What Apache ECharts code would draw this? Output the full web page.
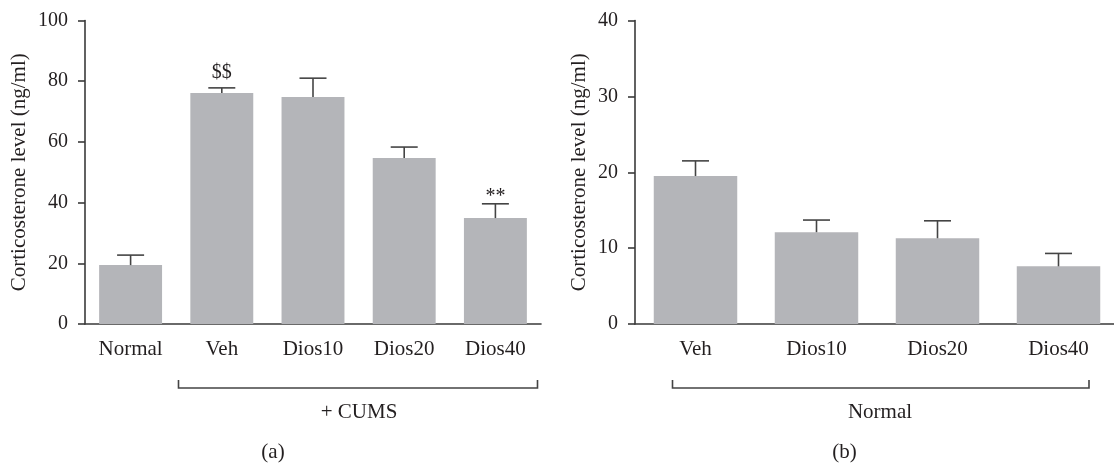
<!DOCTYPE html>
<html><head><meta charset="utf-8">
<script src="https://cdn.jsdelivr.net/npm/echarts@6/dist/echarts.min.js"></script>
<style>html,body{margin:0;padding:0;background:#fff}#c{width:1114px;height:465px}</style>
</head><body><div id="c"></div>
<script>
// ---- data ----
const catsA = ['Normal', 'Veh', 'Dios10', 'Dios20', 'Dios40'];
const meanA = [19.4, 76.1, 74.8, 54.7, 34.9];
const semA  = [3.3, 1.7, 6.2, 3.6, 4.7];
const markA = ['', '$$', '', '', '**'];
const catsB = ['Veh', 'Dios10', 'Dios20', 'Dios40'];
const meanB = [19.5, 12.1, 11.3, 7.6];
const semB  = [2.0, 1.6, 2.3, 1.7];
const markB = ['', '', '', ''];
const yTicksA = { min: 0, max: 100, interval: 20 };
const yTicksB = { min: 0, max: 40, interval: 10 };
const yTitle = 'Corticosterone level (ng/ml)';
const groupA = '+ CUMS', groupB = 'Normal';
const panelA = '(a)', panelB = '(b)';

// ---- style ----
const FONT = '"Liberation Serif", "Times New Roman", serif';
const TXT = '#231f20';
const AX = '#3a3a3a';
const BAR = '#b4b5b9';
const FS = 21;
const FSN = 20;

function errRender(marks) {
  return function (params, api) {
    const i = api.value(0), m = api.value(1), e = api.value(2);
    const base = api.coord([i, m]);
    const top = api.coord([i, m + e]);
    const half = 13.5;
    const st = { stroke: '#444', lineWidth: 1.6 };
    const ch = [
      { type: 'line', shape: { x1: base[0], y1: base[1], x2: top[0], y2: top[1] }, style: st },
      { type: 'line', shape: { x1: top[0] - half, y1: top[1], x2: top[0] + half, y2: top[1] }, style: st }
    ];
    const mk = marks[params.dataIndex];
    if (mk) {
      const star = mk.indexOf('*') >= 0;
      ch.push({ type: 'text', style: { text: mk, x: top[0], y: top[1] + (star ? 3 : -5), align: 'center', verticalAlign: 'bottom',
        font: FSN + 'px ' + FONT, fill: TXT } });
    }
    return { type: 'group', children: ch };
  };
}

function xAxis(cats, gi) {
  return {
    type: 'category', gridIndex: gi, data: cats,
    axisLine: { lineStyle: { color: AX, width: 1.6 } },
    axisTick: { alignWithLabel: true, length: 7, lineStyle: { color: AX, width: 1.6 } },
    axisLabel: { color: TXT, fontFamily: FONT, fontSize: FS, margin: 15, interval: 0 }
  };
}
function yAxis(t, gi, gap) {
  return {
    type: 'value', gridIndex: gi, min: t.min, max: t.max, interval: t.interval,
    name: yTitle, nameLocation: 'middle', nameRotate: 90, nameGap: gap,
    nameTextStyle: { color: TXT, fontFamily: FONT, fontSize: FS },
    axisLine: { show: true, lineStyle: { color: AX, width: 1.6 } },
    axisTick: { show: true, length: 7, lineStyle: { color: AX, width: 1.6 } },
    axisLabel: { color: TXT, fontFamily: FONT, fontSize: FSN, margin: 17 },
    splitLine: { show: false }
  };
}

const chart = echarts.init(document.getElementById('c'), null, { renderer: 'canvas' });
const bracketY = 388, bracketUp = 8;
chart.setOption({
  animation: false,
  grid: [
    { left: 85, top: 20.5, width: 456, height: 303.5, outerBoundsMode: 'none', containLabel: false },
    { left: 635, top: 20.5, width: 484, height: 303.5, outerBoundsMode: 'none', containLabel: false }
  ],
  xAxis: [xAxis(catsA, 0), xAxis(catsB, 1)],
  yAxis: [yAxis(yTicksA, 0, 55), yAxis(yTicksB, 1, 45)],
  series: [
    { type: 'bar', xAxisIndex: 0, yAxisIndex: 0, data: meanA, barWidth: '69%', itemStyle: { color: BAR }, z: 2 },
    { type: 'custom', xAxisIndex: 0, yAxisIndex: 0, renderItem: errRender(markA), z: 3,
      data: meanA.map((v, i) => [i, v, semA[i]]), encode: { x: 0, y: 1 } },
    { type: 'bar', xAxisIndex: 1, yAxisIndex: 1, data: meanB, barWidth: '69%', itemStyle: { color: BAR }, z: 2 },
    { type: 'custom', xAxisIndex: 1, yAxisIndex: 1, renderItem: errRender(markB), z: 3,
      data: meanB.map((v, i) => [i, v, semB[i]]), encode: { x: 0, y: 1 } }
  ],
  graphic: [
    { type: 'polyline', shape: { points: [[178.5, bracketY - bracketUp], [178.5, bracketY], [537.5, bracketY], [537.5, bracketY - bracketUp]] },
      style: { stroke: '#444', lineWidth: 1.6, fill: null } },
    { type: 'text', style: { text: groupA, x: 359, y: 412, align: 'center', verticalAlign: 'middle', font: FS + 'px ' + FONT, fill: TXT } },
    { type: 'text', style: { text: panelA, x: 273, y: 452, align: 'center', verticalAlign: 'middle', font: FS + 'px ' + FONT, fill: TXT } },
    { type: 'polyline', shape: { points: [[672.5, bracketY - bracketUp], [672.5, bracketY], [1089, bracketY], [1089, bracketY - bracketUp]] },
      style: { stroke: '#444', lineWidth: 1.6, fill: null } },
    { type: 'text', style: { text: groupB, x: 880, y: 412, align: 'center', verticalAlign: 'middle', font: FS + 'px ' + FONT, fill: TXT } },
    { type: 'text', style: { text: panelB, x: 844.5, y: 452, align: 'center', verticalAlign: 'middle', font: FS + 'px ' + FONT, fill: TXT } }
  ]
});
</script>
</body></html>
